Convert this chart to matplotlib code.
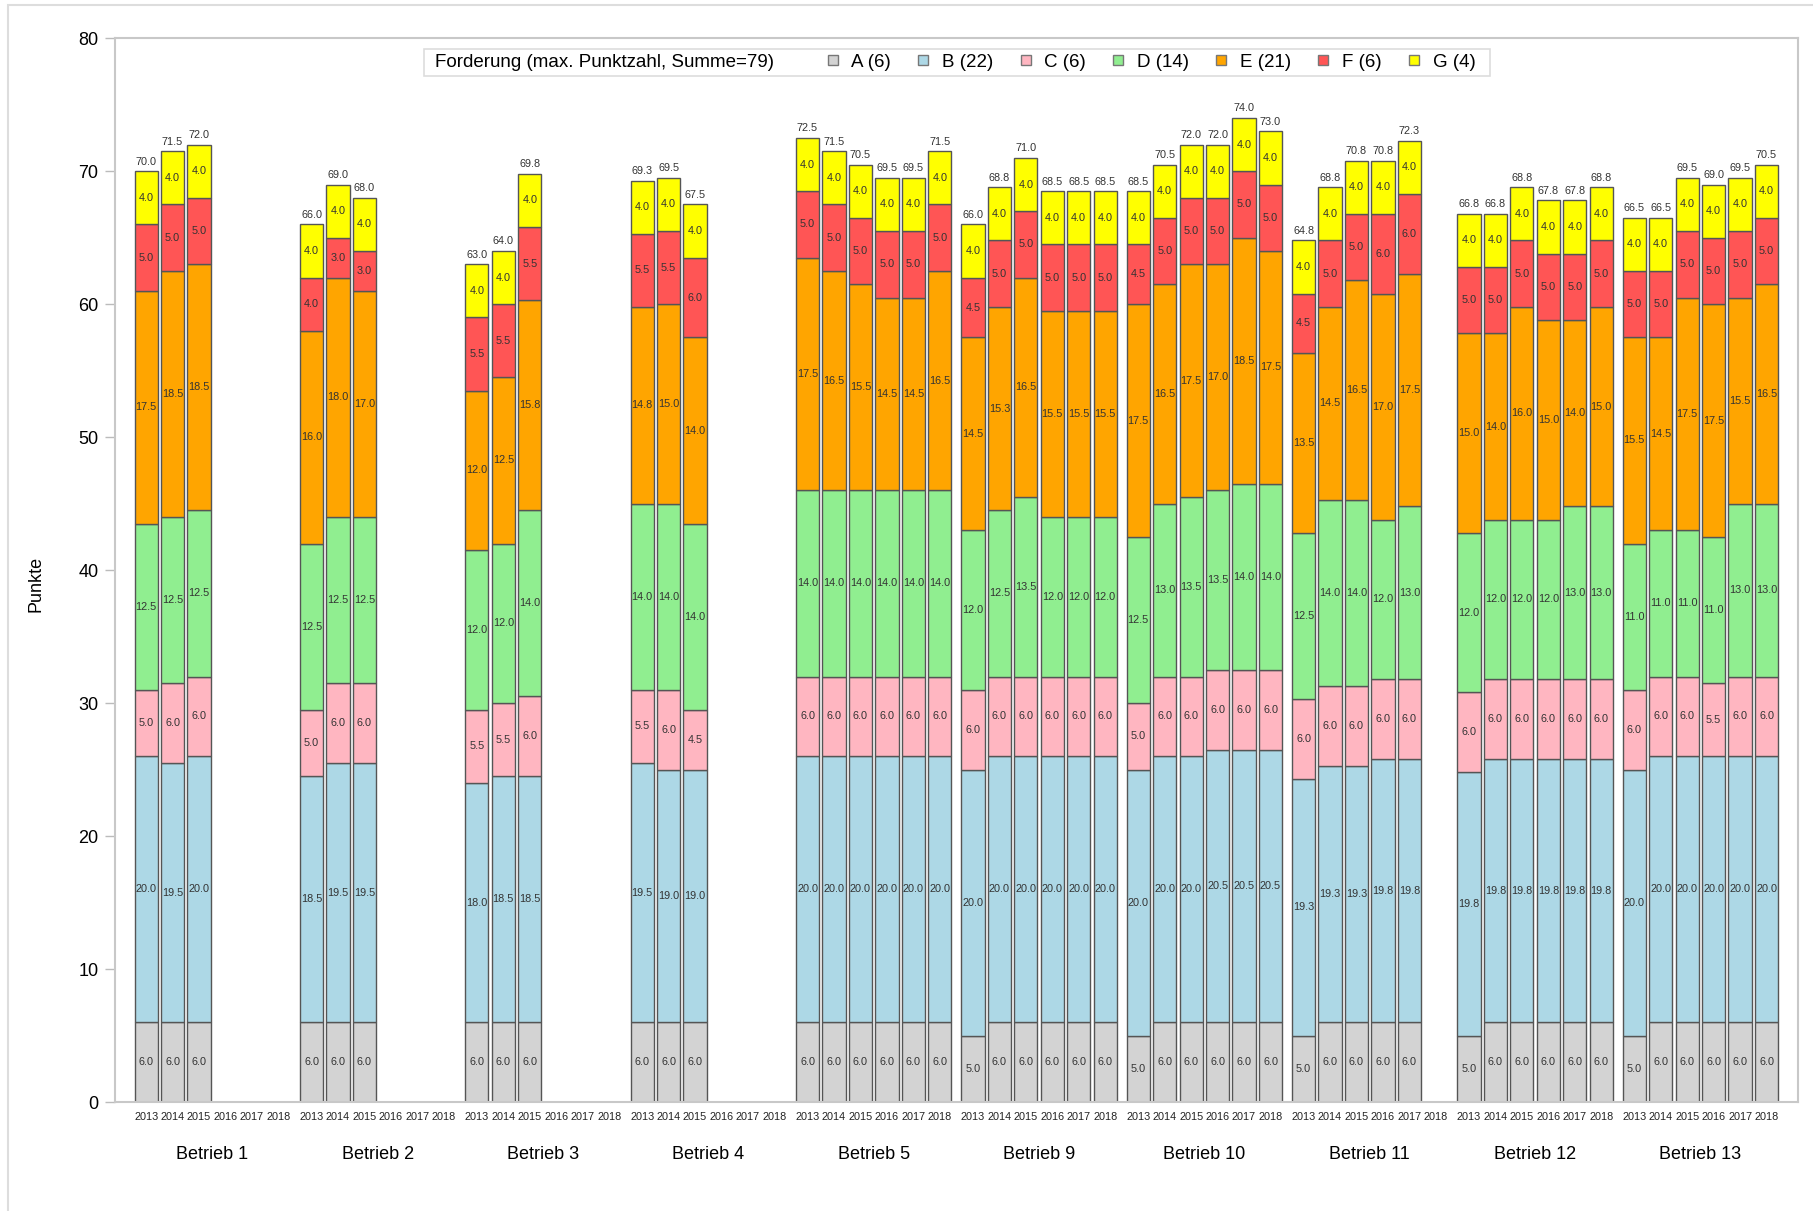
import numpy as np
import matplotlib
matplotlib.use("Agg")
import matplotlib.pyplot as plt
from matplotlib.lines import Line2D
from matplotlib.patches import Rectangle

plt.rcParams['font.family'] = ['Liberation Sans', 'DejaVu Sans']

# Daten
betriebe = ["Betrieb 1", "Betrieb 2", "Betrieb 3", "Betrieb 4", "Betrieb 5",
            "Betrieb 9", "Betrieb 10", "Betrieb 11", "Betrieb 12", "Betrieb 13"]
jahre = ["2013", "2014", "2015", "2016", "2017", "2018"]
kategorien = ["A (6)", "B (22)", "C (6)", "D (14)", "E (21)", "F (6)", "G (4)"]
farben = ["#d3d3d3", "#add8e6", "#ffb6c1", "#90ee90", "#ffa500", "#ff5555", "#ffff00"]

N = None
A = [[6, 6, 6, N, N, N],
     [6, 6, 6, N, N, N],
     [6, 6, 6, N, N, N],
     [6, 6, 6, N, N, N],
     [6, 6, 6, 6, 6, 6],
     [5, 6, 6, 6, 6, 6],
     [5, 6, 6, 6, 6, 6],
     [5, 6, 6, 6, 6, N],
     [5, 6, 6, 6, 6, 6],
     [5, 6, 6, 6, 6, 6]]
B = [[20, 19.5, 20, N, N, N],
     [18.5, 19.5, 19.5, N, N, N],
     [18, 18.5, 18.5, N, N, N],
     [19.5, 19, 19, N, N, N],
     [20, 20, 20, 20, 20, 20],
     [20, 20, 20, 20, 20, 20],
     [20, 20, 20, 20.5, 20.5, 20.5],
     [19.3, 19.3, 19.3, 19.8, 19.8, N],
     [19.8, 19.8, 19.8, 19.8, 19.8, 19.8],
     [20, 20, 20, 20, 20, 20]]
C = [[5, 6, 6, N, N, N],
     [5, 6, 6, N, N, N],
     [5.5, 5.5, 6, N, N, N],
     [5.5, 6, 4.5, N, N, N],
     [6, 6, 6, 6, 6, 6],
     [6, 6, 6, 6, 6, 6],
     [5, 6, 6, 6, 6, 6],
     [6, 6, 6, 6, 6, N],
     [6, 6, 6, 6, 6, 6],
     [6, 6, 6, 5.5, 6, 6]]
D = [[12.5, 12.5, 12.5, N, N, N],
     [12.5, 12.5, 12.5, N, N, N],
     [12, 12, 14, N, N, N],
     [14, 14, 14, N, N, N],
     [14, 14, 14, 14, 14, 14],
     [12, 12.5, 13.5, 12, 12, 12],
     [12.5, 13, 13.5, 13.5, 14, 14],
     [12.5, 14, 14, 12, 13, N],
     [12, 12, 12, 12, 13, 13],
     [11, 11, 11, 11, 13, 13]]
E = [[17.5, 18.5, 18.5, N, N, N],
     [16, 18, 17, N, N, N],
     [12, 12.5, 15.8, N, N, N],
     [14.8, 15, 14, N, N, N],
     [17.5, 16.5, 15.5, 14.5, 14.5, 16.5],
     [14.5, 15.3, 16.5, 15.5, 15.5, 15.5],
     [17.5, 16.5, 17.5, 17, 18.5, 17.5],
     [13.5, 14.5, 16.5, 17, 17.5, N],
     [15, 14, 16, 15, 14, 15],
     [15.5, 14.5, 17.5, 17.5, 15.5, 16.5]]
F = [[5, 5, 5, N, N, N],
     [4, 3, 3, N, N, N],
     [5.5, 5.5, 5.5, N, N, N],
     [5.5, 5.5, 6, N, N, N],
     [5, 5, 5, 5, 5, 5],
     [4.5, 5, 5, 5, 5, 5],
     [4.5, 5, 5, 5, 5, 5],
     [4.5, 5, 5, 6, 6, N],
     [5, 5, 5, 5, 5, 5],
     [5, 5, 5, 5, 5, 5]]
G = [[4, 4, 4, N, N, N],
     [4, 4, 4, N, N, N],
     [4, 4, 4, N, N, N],
     [4, 4, 4, N, N, N],
     [4, 4, 4, 4, 4, 4],
     [4, 4, 4, 4, 4, 4],
     [4, 4, 4, 4, 4, 4],
     [4, 4, 4, 4, 4, N],
     [4, 4, 4, 4, 4, 4],
     [4, 4, 4, 4, 4, 4]]

werte = [np.array(w, dtype=float).ravel() for w in (A, B, C, D, E, F, G)]

W, H = 1813, 1211  # Pixel


def fx(px):
    return px / W


def fy(py):
    return 1 - py / H


# Positionen: 6 Jahre pro Betrieb, kleine Lücke zwischen den Betrieben
gruppen_abstand = 6.25
pos = np.array([g * gruppen_abstand + j for g in range(len(betriebe)) for j in range(len(jahre))])
vorhanden = ~np.isnan(werte[0])

fig = plt.figure(figsize=(W / 100, H / 100), dpi=100)
ax = fig.add_axes([0.0634, 0.09, 0.9282, 0.8784])

bottom = np.zeros(len(pos))
for w, farbe in zip(werte, farben):
    m = vorhanden
    ax.bar(pos[m], w[m], bottom=bottom[m], width=0.88, color=farbe,
           edgecolor="#555555", linewidth=1.0, zorder=2)
    for xi, wi, bi in zip(pos[m], w[m], bottom[m]):
        ax.text(xi, bi + wi / 2, f"{wi:.1f}", ha="center", va="center",
                fontsize=7.8, color="#333333", zorder=3)
    bottom = bottom + np.nan_to_num(w)

# Summen
for xi, s in zip(pos[vorhanden], bottom[vorhanden]):
    ax.text(xi, s + 0.35, f"{s:.1f}", ha="center", va="bottom",
            fontsize=7.8, color="#333333")

ax.set_xlim(pos[0] - 1.18, pos[-1] + 1.18)
ax.set_ylim(0, 80)
ax.set_yticks(np.arange(0, 81, 10))
ax.tick_params(axis="y", length=7, width=1, color="#bbbbbb", labelsize=13, pad=5)
ax.set_xticks(pos)
ax.set_xticklabels(jahre * len(betriebe), fontsize=7.8, color="#222222")
ax.tick_params(axis="x", length=0, pad=7)

for g, name in enumerate(betriebe):
    ax.annotate(name, xy=(g * gruppen_abstand + 2.5, 0), xycoords=("data", "axes fraction"),
                xytext=(0, -38), textcoords="offset points", ha="center", va="center",
                fontsize=13)

for s in ax.spines.values():
    s.set_color("#c8c8c8")
    s.set_linewidth(1.5)

ax.set_ylabel("Punkte", fontsize=13)
ax.yaxis.set_label_coords(-0.042, 0.487)

# Legende: Rahmen, Titel und Einträge in einer Zeile
leg_y = 62.4
fig.patches.append(Rectangle((fx(424), fy(75.5)), fx(1490) - fx(424), fy(49.5) - fy(75.5),
                             transform=fig.transFigure, facecolor="white",
                             edgecolor="#dddddd", linewidth=1.2, zorder=4))
fig.text(fx(435), fy(leg_y), "Forderung (max. Punktzahl, Summe=79)", ha="left", va="center",
         fontsize=13.5, zorder=6)
handles = [Line2D([], [], linestyle="none", marker="s", markersize=7,
                  markerfacecolor=c, markeredgecolor="#777777", label=k)
           for k, c in zip(kategorien, farben)]
fig.legend(handles=handles, loc="center left", bbox_to_anchor=(fx(825), fy(leg_y)), ncol=7,
           fontsize=13.5, frameon=False, handlelength=0.8, handletextpad=0.6,
           columnspacing=1.32, borderpad=0, borderaxespad=0)

# Rahmen um die Grafik
fig.patches.append(Rectangle((0.0044, -0.01), 1.0, 1.0059, transform=fig.transFigure,
                             fill=False, edgecolor="#dddddd", linewidth=1.5))

fig.savefig("out.png", dpi=100)
